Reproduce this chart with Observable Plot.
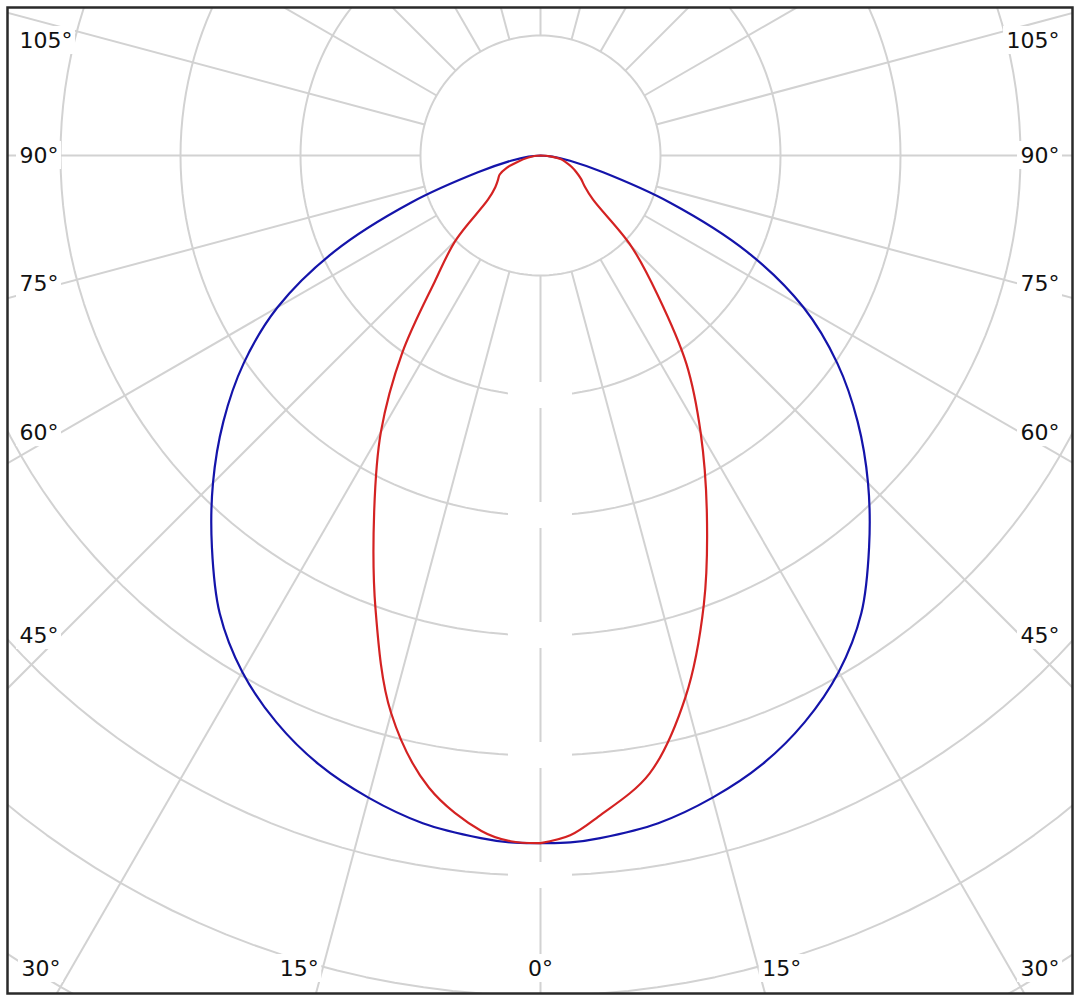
<!DOCTYPE html>
<html><head><meta charset="utf-8">
<script src="https://cdn.jsdelivr.net/npm/d3@7"></script>
<script src="https://cdn.jsdelivr.net/npm/@observablehq/plot@0.6"></script>
<style>body{margin:0;background:#fff} svg{display:block}</style>
</head><body><div id="chart"></div>
<script>
// Data (intensity units; one grid ring = 100)
const angles = [0,2.5,5,10,15,20,25,30,35,40,45,50,55,60,65,70,75,80,85,90];
const blueIntensity = [573,573,571,565,554,540,521,497,466,426,386,345,302,253,190,115,54,25,10,0];
const redLeft  = [573,572,565,535,481,402,328,266,201,137,100,57,46,41,37.5,30,19,11,5,0];
const redRight = [573,567,553,523,467,398,328,267,212,152,107,57,45,39,33,27.5,22,17,8,0];
const ringValues = [100,200,300,400,500,600,700,800,900];
const spokeAngles = [0,15,30,45,60,75,90,105,120,135,150,165,180];
const sideLabelAngles = [45,60,75,90,105];
const bottomLabelAngles = [0,15,30];
const boxedRings = [200,300,400,500,600];

const W = 1079, H = 1000, CX = 540, CY = 155, PX = 1.2, FS = 22;
const rad = d => d * Math.PI / 180;
const ux = p => (p - CX) / PX;
const uy = p => (CY - p) / PX;

// rings
const ringPts = [];
for (const r of ringValues) for (let t = 0; t <= 360; t += 2) ringPts.push({r, x: r * Math.sin(rad(t)), y: r * Math.cos(rad(t))});

// spokes
const spokes = [];
for (const a of spokeAngles) {
  const sides = (a === 0 || a === 180) ? [1] : [-1, 1];
  for (const s of sides) spokes.push({
    x1: s * 100 * Math.sin(rad(a)), y1: -100 * Math.cos(rad(a)),
    x2: s * 1100 * Math.sin(rad(a)), y2: -1100 * Math.cos(rad(a))
  });
}

function curve(left, right) {
  const pts = [];
  angles.forEach((a, i) => pts.push({x: -left[i] * Math.sin(rad(a)), y: -left[i] * Math.cos(rad(a))}));
  for (let i = angles.length - 1; i >= 0; i--) {
    const a = angles[i];
    pts.push({x: right[i] * Math.sin(rad(a)), y: -right[i] * Math.cos(rad(a))});
  }
  return pts;
}
const blueCurve = curve(blueIntensity, blueIntensity);
const redCurve = curve(redLeft, redRight);

// labels
const textW = s => FS * (0.636 * (s.length - 1) + 0.5);
const labels = [];
for (const a of sideLabelAngles) {
  let py = CY + 480 / Math.tan(rad(a));
  if (a === 90) py = CY;
  py = Math.max(py, 40);
  const t = `${a}°`, w = textW(t);
  labels.push({t, anchor: "start", px: 19, py, bx1: 16, bx2: 19 + w + 3});
  labels.push({t, anchor: "end", px: 1059, py, bx1: 1059 - w - 3, bx2: 1062});
}
for (const a of bottomLabelAngles) {
  const py = 968, t = `${a}°`, w = textW(t);
  if (a === 0) { labels.push({t, anchor: "middle", px: CX, py, bx1: CX - w/2 - 3, bx2: CX + w/2 + 3}); continue; }
  const off = 835 * Math.tan(rad(a));
  labels.push({t, anchor: "end", px: CX - off + 2, py, bx1: CX - off + 2 - w - 3, bx2: CX - off + 5});
  labels.push({t, anchor: "start", px: CX + off - 2, py, bx1: CX + off - 5, bx2: CX + off - 2 + w + 3});
}
labels.forEach(d => { d.x = ux(d.px); d.y = uy(d.py); d.x1 = ux(d.bx1); d.x2 = ux(d.bx2); d.y1 = uy(d.py - 14); d.y2 = uy(d.py + 14); });

const ringBoxes = boxedRings.map(r => ({x1: -32 / PX, x2: 32 / PX, y1: -r - 13 / PX, y2: -r + 13 / PX}));

const grid = "#d2d2d2";
const textMark = anchor => Plot.text(labels.filter(d => d.anchor === anchor), {
  x: "x", y: "y", text: "t", textAnchor: anchor, fontSize: FS, fontFamily: "DejaVu Sans", fill: "#111"
});

const chart = Plot.plot({
  width: W, height: H, margin: 0,
  x: {domain: [ux(0), ux(W)], range: [0, W], axis: null},
  y: {domain: [uy(H), uy(0)], range: [H, 0], axis: null},
  style: {background: "white"},
  marks: [
    Plot.line(ringPts, {x: "x", y: "y", z: "r", stroke: grid, strokeWidth: 2, clip: true}),
    Plot.link(spokes, {x1: "x1", y1: "y1", x2: "x2", y2: "y2", stroke: grid, strokeWidth: 2, clip: true}),
    Plot.rect(ringBoxes, {x1: "x1", x2: "x2", y1: "y1", y2: "y2", fill: "white"}),
    Plot.rect(labels, {x1: "x1", x2: "x2", y1: "y1", y2: "y2", fill: "white"}),
    textMark("start"), textMark("end"), textMark("middle"),
    Plot.line(blueCurve, {x: "x", y: "y", curve: "catmull-rom", stroke: "#1414aa", strokeWidth: 2.2}),
    Plot.line(redCurve, {x: "x", y: "y", curve: "catmull-rom", stroke: "#d42222", strokeWidth: 2.2}),
    Plot.frame({stroke: "white", strokeWidth: 14}),
    Plot.frame({inset: 7, stroke: "#2a2a2a", strokeWidth: 2.5})
  ]
});
document.getElementById("chart").appendChild(chart);
</script>
</body></html>
